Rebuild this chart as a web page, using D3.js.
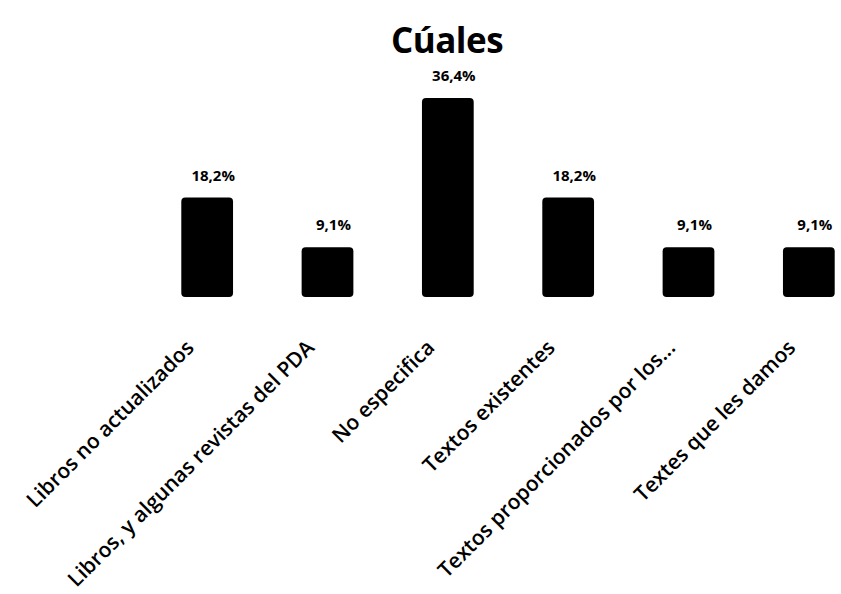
<!DOCTYPE html>
<html><head><meta charset="utf-8">
<script src="https://cdn.jsdelivr.net/npm/d3@7"></script>
<style>body{margin:0;background:#fff}</style>
</head><body>
<svg id="c" width="841" height="594"></svg>
<script>
const categories = ["Libros no actualizados","Libros, y algunas revistas del PDA","No especifica","Textos existentes","Textos proporcionados por los...","Textes que les damos"];
const values = [18.2, 9.1, 36.4, 18.2, 9.1, 9.1];
const valueLabels = ["18,2%","9,1%","36,4%","18,2%","9,1%","9,1%"];
const title = "Cúales";

const svg = d3.select("#c");
const baseY = 297;
const x = d3.scaleBand().domain(categories).range([147, 869]).paddingInner(0.57).paddingOuter(0.285);
const y = d3.scaleLinear().domain([0, 36.4]).range([baseY, 98]);

svg.append("text").attr("x", 447).attr("y", 53).attr("text-anchor","middle")
  .attr("font-family","Open Sans, sans-serif").attr("font-weight","bold").attr("font-size",35)
  .attr("letter-spacing",-0.5)
  .text(title);

svg.selectAll("rect.bar").data(values).join("rect")
  .attr("x",(d,i)=>x(categories[i])).attr("width",x.bandwidth())
  .attr("y",d=>y(d)).attr("height",d=>baseY-y(d))
  .attr("rx",4).attr("fill","#000");

svg.selectAll("text.val").data(values).join("text")
  .attr("x",(d,i)=>x(categories[i])+x.bandwidth()/2+6).attr("y",d=>y(d)-17)
  .attr("text-anchor","middle").attr("font-family","Open Sans, sans-serif")
  .attr("font-weight","bold").attr("font-size",15).text((d,i)=>valueLabels[i]);

const axis = d3.axisBottom(x).tickSize(0).tickPadding(0);
const g = svg.append("g").attr("transform",`translate(0,${baseY})`).call(axis);
g.select(".domain").remove();
g.selectAll(".tick text")
  .attr("font-family","Open Sans, sans-serif").attr("font-size",21).attr("font-weight",600)
  .attr("fill","#000").attr("text-anchor","end").attr("dy",0).attr("y",0)
  .attr("transform","translate(-12,52) rotate(-45)");
</script>
</body></html>
